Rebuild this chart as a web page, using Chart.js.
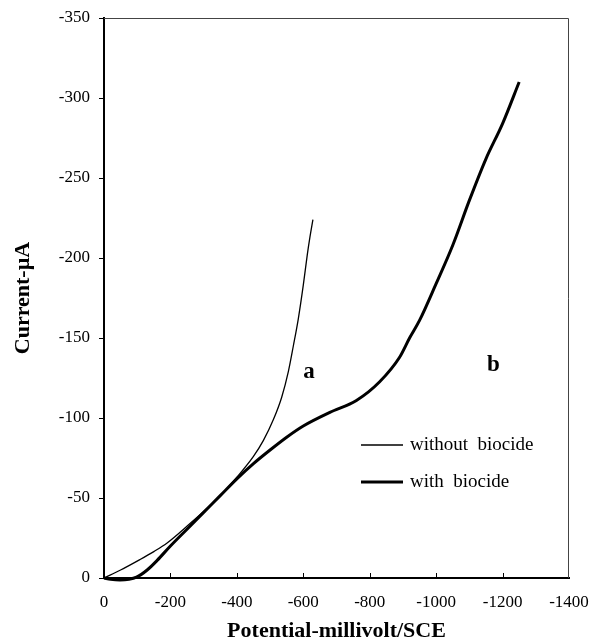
<!DOCTYPE html>
<html>
<head>
<meta charset="utf-8">
<script src="https://cdn.jsdelivr.net/npm/chart.js@4/dist/chart.umd.min.js"></script>
<style>
  html, body { margin: 0; padding: 0; background: #fff; }
  #wrap { width: 591px; height: 641px; }
</style>
</head>
<body>
<div id="wrap"><canvas id="chart" width="591" height="641"></canvas></div>
<script>
// potential (mV vs SCE) and current (µA)
const potentialA = [0, -50, -108, -150, -189, -259, -300, -339, -400, -450, -480, -510, -535, -555, -570, -585, -600, -612, -620, -629];
const currentA   = [0, -5, -11.5, -16.5, -21.7, -34, -41.5, -49, -63, -76, -86, -99, -113, -129, -145, -162, -183, -202, -213, -224];

const potentialB = [0, -20, -48, -75, -98, -130, -160, -200, -250, -300, -350, -400, -450, -500, -550, -600, -680, -760, -830, -890, -920, -950, -1000, -1050, -1100, -1150, -1200, -1250];
const currentB   = [0, 0.8, 1.2, 0.8, -0.5, -5, -11, -20, -30.5, -41, -51.5, -62, -71.5, -80, -88, -95, -103.5, -111, -122.7, -138, -150, -161, -184, -208, -236, -262, -284, -310];

const xTicks = [0, -200, -400, -600, -800, -1000, -1200, -1400];
const yTicks = [0, -50, -100, -150, -200, -250, -300, -350];

const seriesNames = ["without  biocide", "with  biocide"];
const curveLabels = [
  { text: "a", x: -617, y: -129 },
  { text: "b", x: -1172, y: -133 }
];

function toPoints(xs, ys) {
  return xs.map((x, i) => ({ x: x, y: ys[i] }));
}

const serif = "'Liberation Serif', 'Times New Roman', serif";

// frame, inward x ticks, legend and a/b labels
const extras = {
  id: "extras",
  afterDraw(chart) {
    const ctx = chart.ctx;
    const area = chart.chartArea;
    const xs = chart.scales.x;
    const ys = chart.scales.y;
    ctx.save();

    // thin top/right frame
    ctx.strokeStyle = "#444";
    ctx.lineWidth = 1;
    ctx.beginPath();
    ctx.moveTo(area.left, area.top + 0.5);
    ctx.lineTo(area.right - 0.5, area.top + 0.5);
    ctx.lineTo(area.right - 0.5, area.bottom);
    ctx.stroke();

    // x tick marks point up into the plot
    ctx.strokeStyle = "#000";
    xTicks.forEach((t) => {
      if (t === 0 || t === -1400) return;
      const px = Math.round(xs.getPixelForValue(t)) + 0.5;
      ctx.beginPath();
      ctx.moveTo(px, area.bottom);
      ctx.lineTo(px, area.bottom - 5);
      ctx.stroke();
    });

    // curve labels
    ctx.fillStyle = "#000";
    ctx.font = "bold 23px " + serif;
    ctx.textAlign = "center";
    ctx.textBaseline = "middle";
    curveLabels.forEach((l) => {
      ctx.fillText(l.text, xs.getPixelForValue(l.x), ys.getPixelForValue(l.y));
    });

    // legend inside the plot
    ctx.font = "19px " + serif;
    ctx.textAlign = "left";
    const lx = area.left + 257;
    let ly = area.top + 427;
    chart.data.datasets.forEach((ds) => {
      ctx.strokeStyle = ds.borderColor;
      ctx.lineWidth = ds.borderWidth;
      ctx.beginPath();
      ctx.moveTo(lx, ly);
      ctx.lineTo(lx + 42, ly);
      ctx.stroke();
      ctx.fillText(ds.label, lx + 49, ly);
      ly += 37;
    });
    ctx.restore();
  }
};

new Chart(document.getElementById("chart"), {
  type: "scatter",
  data: {
    datasets: [
      {
        label: seriesNames[0],
        data: toPoints(potentialA, currentA),
        showLine: true,
        borderColor: "#000",
        borderWidth: 1.3,
        pointRadius: 0,
        cubicInterpolationMode: "monotone",
        clip: 4
      },
      {
        label: seriesNames[1],
        data: toPoints(potentialB, currentB),
        showLine: true,
        borderColor: "#000",
        borderWidth: 3,
        pointRadius: 0,
        cubicInterpolationMode: "monotone",
        clip: 4
      }
    ]
  },
  options: {
    responsive: false,
    animation: false,
    layout: { padding: { top: 18, right: 22, left: 0, bottom: 0 } },
    plugins: {
      legend: { display: false },
      tooltip: { enabled: false }
    },
    scales: {
      x: {
        type: "linear",
        min: -1400,
        max: 0,
        reverse: true,
        afterFit: (s) => { s.height = 63; s.paddingLeft = 0; s.paddingRight = 0; },
        afterBuildTicks: (s) => { s.ticks = xTicks.map((v) => ({ value: v })); },
        grid: { display: true, drawOnChartArea: false, drawTicks: false },
        border: { display: true, color: "#000", width: 2 },
        ticks: {
          padding: 14,
          color: "#000",
          font: { family: serif, size: 17 },
          callback: (v) => String(v)
        },
        title: {
          display: true,
          text: "Potential-millivolt/SCE",
          color: "#000",
          font: { family: serif, size: 22, weight: "bold", lineHeight: 1 },
          padding: { top: 0, bottom: -1 }
        }
      },
      y: {
        type: "linear",
        min: -350,
        max: 0,
        reverse: true,
        afterFit: (s) => { s.width = 104; s.paddingTop = 0; s.paddingBottom = 0; },
        afterBuildTicks: (s) => { s.ticks = yTicks.map((v) => ({ value: v })); },
        grid: { display: true, drawOnChartArea: false, drawTicks: true, tickLength: 5, color: "#000" },
        border: { display: true, color: "#000", width: 2 },
        ticks: {
          padding: 9,
          color: "#000",
          font: { family: serif, size: 17 },
          callback: (v) => String(v)
        },
        title: {
          display: true,
          text: "Current-µA",
          color: "#000",
          font: { family: serif, size: 22, weight: "bold", lineHeight: 1 },
          padding: { top: 12, bottom: 0 }
        }
      }
    }
  },
  plugins: [extras]
});
</script>
</body>
</html>
